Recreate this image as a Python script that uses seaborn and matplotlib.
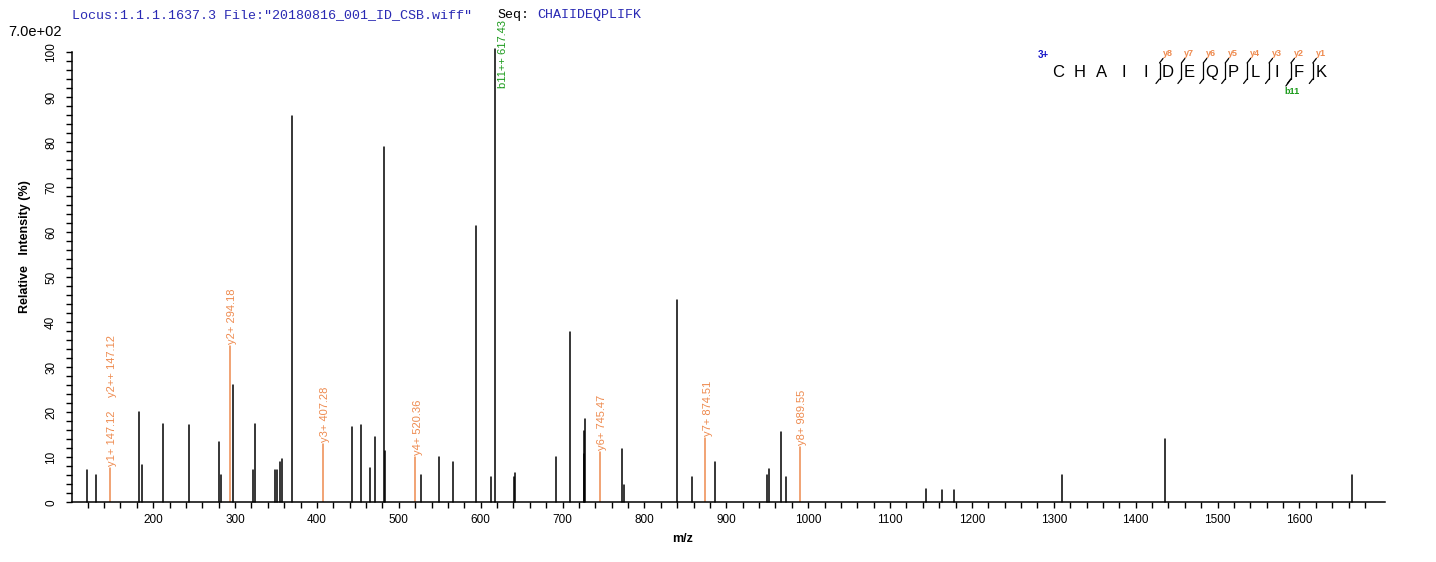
import matplotlib
matplotlib.use("Agg")
import numpy as np
import pandas as pd
import matplotlib.pyplot as plt
from matplotlib.lines import Line2D
import seaborn as sns

# ---------------- data ----------------
peak_mz = [119.7, 130.0, 183.3, 186.9, 211.4, 244.3, 281.0, 283.4, 298.0, 321.8,
           324.2, 349.4, 351.8, 355.5, 357.9, 369.4, 443.4, 454.4, 465.4, 471.5,
           482.5, 483.7, 527.7, 549.7, 566.8, 594.9, 613.2, 617.43, 641.3, 642.5,
           692.6, 709.7, 725.6, 726.8, 728.0, 773.2, 774.5, 839.2, 857.5, 886.8,
           950.3, 951.6, 967.4, 973.5, 1143.3, 1162.9, 1177.5, 1309.4, 1435.3, 1663.7]
peak_int = [7.1, 6.0, 20.1, 8.4, 17.4, 17.1, 13.3, 6.0, 26.0, 7.1,
            17.3, 7.1, 7.1, 8.9, 9.6, 85.8, 16.7, 17.2, 7.6, 14.5,
            79.0, 11.4, 6.1, 10.1, 9.0, 61.4, 5.7, 100.8, 5.7, 6.5,
            10.1, 37.8, 15.8, 10.7, 18.5, 11.8, 3.8, 45.0, 5.6, 8.9,
            6.0, 7.3, 15.6, 5.6, 2.9, 2.7, 2.7, 6.0, 14.0, 6.0]

ion_mz = [147.12, 294.18, 407.28, 520.36, 745.47, 874.51, 989.55]
ion_int = [7.6, 34.7, 12.9, 10.1, 11.1, 14.3, 12.3]
ion_labels = [["y1+ 147.12", "y2++ 147.12"], ["y2+ 294.18"], ["y3+ 407.28"],
              ["y4+ 520.36"], ["y6+ 745.47"], ["y7+ 874.51"], ["y8+ 989.55"]]

b_ion_mz = 617.43
b_ion_label = "b11++ 617.43"

sequence = list("CHAIIDEQPLIFK")
y_ions_found = [1, 2, 3, 4, 5, 6, 7, 8]
b_ions_found = [11]
charge = "3+"

header_locus = 'Locus:1.1.1.1637.3 File:"20180816_001_ID_CSB.wiff"'
header_seq = "CHAIIDEQPLIFK"
max_intensity = "7.0e+02"

x_major = list(range(200, 1700, 100))

# ---------------- style ----------------
sns.set_theme(style="ticks")
plt.rcParams['font.family'] = ['Liberation Sans', 'DejaVu Sans']

ORANGE = "#EE8A4E"
GREEN = "#1A9A1A"
BLUE = "#2A2AB4"

W, H = 1436, 562
fig = plt.figure(figsize=(W / 100, H / 100), dpi=100)
left_px, right_px, y0_px, ytop_px = 71.7, 1385.0, 502.3, 47.8
ax = fig.add_axes([left_px / W, 1 - y0_px / H, (right_px - left_px) / W, (y0_px - ytop_px) / H])
ax.set_facecolor("white")

def fx(px):
    return px / W

def fy(py):
    return 1 - py / H

# ---------------- peaks ----------------
rows = []
for i, (m, h) in enumerate(zip(peak_mz, peak_int)):
    rows.append({"peak": i, "mz": m, "rel": 0.0})
    rows.append({"peak": i, "mz": m, "rel": h})
df_peaks = pd.DataFrame(rows)

rows = []
for i, (m, h) in enumerate(zip(ion_mz, ion_int)):
    rows.append({"peak": i, "mz": m, "rel": 0.0})
    rows.append({"peak": i, "mz": m, "rel": h})
df_ions = pd.DataFrame(rows)

sns.lineplot(data=df_peaks, x="mz", y="rel", units="peak", estimator=None, sort=False,
             color="black", linewidth=1.1, ax=ax, legend=False, clip_on=False)
sns.lineplot(data=df_ions, x="mz", y="rel", units="peak", estimator=None, sort=False,
             color=ORANGE, linewidth=1.1, ax=ax, legend=False)

# ion labels
for m, h, labs in zip(ion_mz, ion_int, ion_labels):
    for k, lab in enumerate(labs):
        ax.annotate(lab, xy=(m, h), xytext=(1.5, 1.5 + 50 * k), textcoords="offset points",
                    rotation=90, ha="center", va="bottom", fontsize=8, color=ORANGE)

ax.annotate(b_ion_label, xy=(b_ion_mz, 92.0), xytext=(6, 0), textcoords="offset points",
            rotation=90, ha="center", va="bottom", fontsize=8, color=GREEN,
            annotation_clip=False)

# ---------------- axes ----------------
ax.set_xlim(100.5, 1704.5)
ax.set_ylim(0, 101)
ax.set_xticks(x_major)
ax.set_xticks([t for t in range(120, 1700, 20) if t not in x_major], minor=True)
ax.set_yticks(list(range(0, 101, 10)))
ax.set_yticks([t for t in range(2, 100, 2) if t % 10], minor=True)

for s in ["top", "right"]:
    ax.spines[s].set_visible(False)
for s in ["left", "bottom"]:
    ax.spines[s].set_color("black")
    ax.spines[s].set_linewidth(1.1)
ax.spines["left"].set_bounds(0, 100)

ax.tick_params(axis="both", which="both", direction="out", length=4.5, width=1.0,
               color="black", labelsize=8.5, labelcolor="black")
ax.tick_params(axis="x", pad=4)
ax.tick_params(axis="y", pad=6, labelrotation=90)
for lab in ax.get_yticklabels():
    lab.set_va("center")
ax.grid(False)

ax.set_xlabel("m/z", fontsize=9, fontweight="bold", color="black")
ax.xaxis.set_label_coords((683 - left_px) / (right_px - left_px), (y0_px - 533) / (y0_px - ytop_px))
ax.set_ylabel("Relative   Intensity (%)", fontsize=9, fontweight="bold", color="black")
ax.yaxis.set_label_coords((31 - left_px) / (right_px - left_px), (y0_px - 246.5) / (y0_px - ytop_px))

# ---------------- header ----------------
mono = ["Liberation Mono", "DejaVu Sans Mono"]
fig.text(fx(72), fy(15), header_locus, family=mono, fontsize=9.6, color=BLUE, va="center")
fig.text(fx(497), fy(15), "Seq:", family=mono, fontsize=9.6, color="black", va="center")
fig.text(fx(537), fy(15), header_seq, family=mono, fontsize=9.6, color=BLUE, va="center")
fig.text(fx(8), fy(32), max_intensity, fontsize=10.5, color="black", va="center")

# ---------------- sequence ladder ----------------
n = len(sequence)
seq_x0, seq_step, seq_y = 1058.0, 21.9, 72.7
fig.text(fx(1038), fy(55), charge, fontsize=7, fontweight="bold", color="#1515C8", va="center")
for i, aa in enumerate(sequence):
    fig.text(fx(seq_x0 + i * seq_step), fy(seq_y), aa, fontsize=12, color="black",
             ha="center", va="center")

def seg(x1, y1, x2, y2, color):
    fig.add_artist(Line2D([fx(x1), fx(x2)], [fy(y1), fy(y2)], color=color, lw=0.9,
                          transform=fig.transFigure))

for num in y_ions_found:
    i = n - num
    bx = seq_x0 + i * seq_step - 8
    seg(bx, 63, bx, 79, "black")
    seg(bx, 63, bx + 3.5, 58.5, "black")
    seg(bx, 79, bx - 3.5, 83.5, "black")
    fig.text(fx(bx + 8), fy(54), f"y{num}", fontsize=6.5, fontweight="bold",
             color=ORANGE, ha="center", va="center")
for num in b_ions_found:
    bx = seq_x0 + num * seq_step - 8
    seg(bx, 79, bx - 5, 86, "black")
    fig.text(fx(bx + 1), fy(92), f"b{num}", fontsize=6.5, fontweight="bold",
             color=GREEN, ha="center", va="center")

fig.savefig("out.png", dpi=100, facecolor="white")
